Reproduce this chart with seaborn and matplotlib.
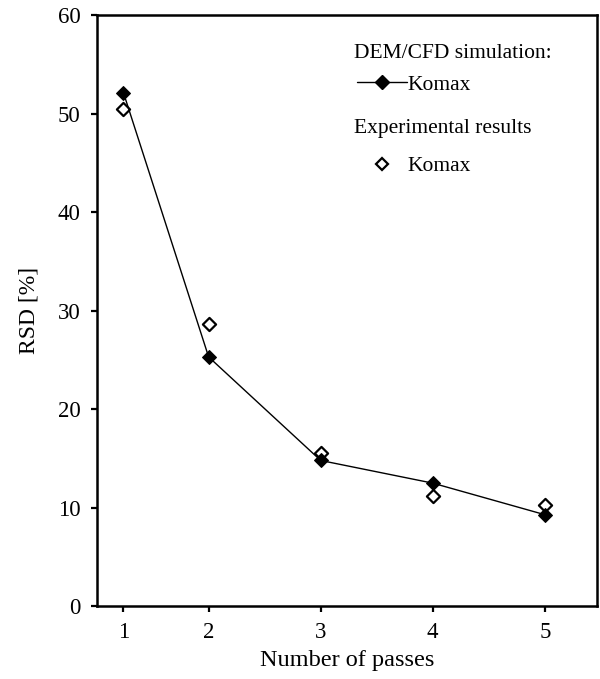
import matplotlib
matplotlib.use("Agg")
import matplotlib.pyplot as plt
import seaborn as sns
import pandas as pd
from matplotlib.lines import Line2D

# ---- data ----
pass_labels = ["1", "2", "3", "4", "5"]
pass_pos = [1.24, 2.0, 3.0, 4.0, 5.0]          # axis positions of the passes
dem_cfd_komax = [52.1, 25.3, 14.8, 12.5, 9.3]   # DEM/CFD simulation
exp_komax = [50.5, 28.6, 15.6, 11.2, 10.3]      # Experimental results

sns.set_theme(style="ticks")
plt.rcParams["font.family"] = ["Liberation Serif", "DejaVu Serif"]
plt.rcParams["text.color"] = "black"
plt.rcParams["axes.labelcolor"] = "black"

df_dem = pd.DataFrame({"pos": pass_pos, "rsd": dem_cfd_komax})
df_exp = pd.DataFrame({"pos": pass_pos, "rsd": exp_komax})

fig = plt.figure(figsize=(6.0, 6.79), dpi=100)
ax = fig.add_axes([0.161, 0.107, 0.834, 0.871])

sns.lineplot(data=df_dem, x="pos", y="rsd", ax=ax, color="black", linewidth=1.0,
             marker="D", markersize=7.5, markerfacecolor="black",
             markeredgecolor="black", zorder=3)
sns.scatterplot(data=df_exp, x="pos", y="rsd", ax=ax, marker="D", s=45,
                facecolor="white", edgecolor="black", linewidth=1.6, zorder=2)

ax.set_xlim(1.0, 5.466)
ax.set_ylim(0, 60)
ax.set_xticks(pass_pos)
ax.set_xticklabels(pass_labels)
ax.set_yticks(range(0, 61, 10))
ax.tick_params(axis="both", direction="out", length=4.5, width=1.6,
               labelsize=16.5, color="black", labelcolor="black", pad=7)
for s in ax.spines.values():
    s.set_visible(True)
    s.set_linewidth(1.8)
    s.set_color("black")
ax.set_xlabel("Number of passes", fontsize=17.5, color="black", labelpad=5)
ax.set_ylabel("RSD [%]", fontsize=17, color="black", labelpad=13)

fs = 15.5
ax.text(0.514, 0.927, "DEM/CFD simulation:", transform=ax.transAxes,
        fontsize=fs, ha="left", va="baseline", color="black")
ax.text(0.514, 0.8005, "Experimental results", transform=ax.transAxes,
        fontsize=fs, ha="left", va="baseline", color="black")

h_dem = Line2D([], [], color="black", linewidth=1.0, marker="D", markersize=7.5,
               markerfacecolor="black", markeredgecolor="black")
h_exp = Line2D([], [], linestyle="none", marker="D", markersize=6.5,
               markerfacecolor="white", markeredgecolor="black", markeredgewidth=1.6)

leg1 = ax.legend([h_dem], ["Komax"], loc="center left",
                 bbox_to_anchor=(0.520, 0.882), frameon=False, fontsize=fs,
                 handlelength=36 / fs, handletextpad=0.05, labelcolor="black",
                 borderaxespad=0, borderpad=0)
ax.add_artist(leg1)
leg2 = ax.legend([h_exp], ["Komax"], loc="center left",
                 bbox_to_anchor=(0.520, 0.744), frameon=False, fontsize=fs,
                 handlelength=36 / fs, handletextpad=0.05, labelcolor="black",
                 borderaxespad=0, borderpad=0)

fig.savefig("out.png", dpi=100, facecolor="white")
